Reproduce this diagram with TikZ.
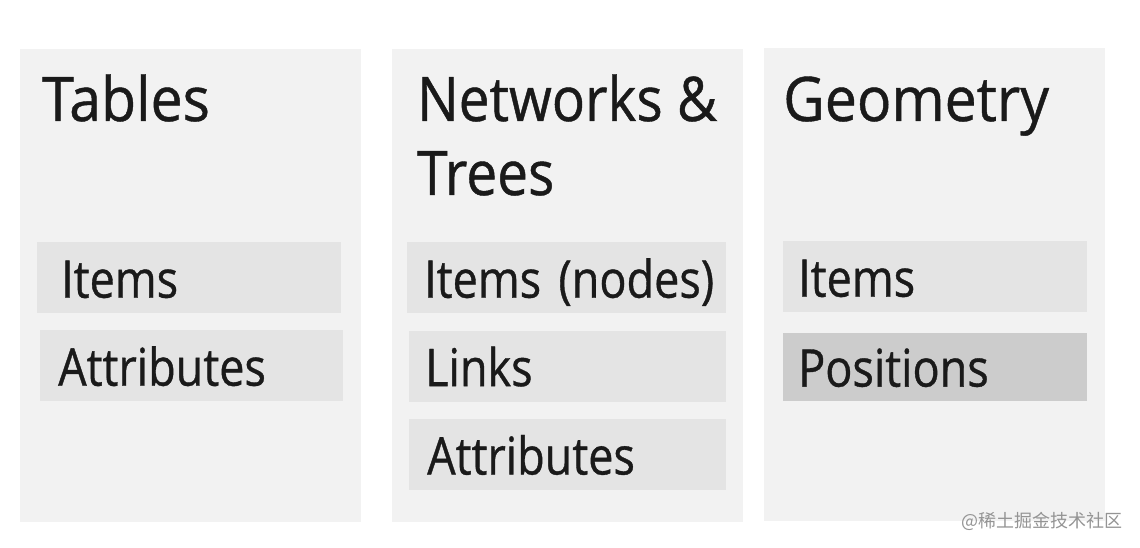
\documentclass[tikz,border=0pt]{standalone}
\usepackage{fontspec}
\setmainfont[FakeStretch=0.865, FakeBold=0.7]{Open Sans}
\newfontfamily\titlefont[FakeStretch=0.93, FakeBold=0.7]{Open Sans}
\newfontfamily\nettitlefont[FakeStretch=0.895, FakeBold=0.7]{Open Sans}
\newfontfamily\cjk{Noto Sans CJK SC}
\usepackage{tikz}
\usetikzlibrary{positioning}
\definecolor{panelgray}{HTML}{F2F2F2}
\definecolor{entrygray}{HTML}{E4E4E4}
\definecolor{markgray}{HTML}{CCCCCC}
\definecolor{inkgray}{HTML}{1A1A1A}

\tikzset{
  panel/.style={fill=panelgray, anchor=north west, inner sep=0pt,
    minimum width=341pt, minimum height=473pt},
  paneltitle/.style={anchor=base west, inner sep=0pt, text=inkgray,
    font=\titlefont\fontsize{61.5}{74}\selectfont},
  entry/.style={fill=entrygray, anchor=north west, inner xsep=16pt, inner ysep=0pt,
    text width=272pt, minimum height=71pt, text height=40pt, text depth=0pt,
    align=left, text=inkgray, font=\fontsize{52}{60}\selectfont},
}

\begin{document}
\begin{tikzpicture}[x=1pt, y=-1pt]
  \useasboundingbox (0,0) rectangle (1140,548);
  % panels
  \node[panel] (tables) at (20,49) {};
  \node[panel, minimum width=351pt] (networks) at (392,49) {};
  \node[panel] (geometry) at (764,48) {};
  % titles
  \node[paneltitle] (tabtitle) at (42,121) {Tables};
  \node[paneltitle, font=\nettitlefont\fontsize{61.5}{74}\selectfont] (nettitle) at (417,121) {Networks \&};
  \node[paneltitle, font=\nettitlefont\fontsize{61.5}{74}\selectfont] (nettitleb) at (417,195) {Trees};
  \node[paneltitle] (geotitle) at (783,121) {Geometry};
  % entries
  \node[entry, inner xsep=24pt, text width=256pt] (tabitems) at (37,242) {Items};
  \node[entry, inner xsep=18pt, text width=267pt] (tabattr) at (40,330) {Attributes};
  \node[entry, inner xsep=17pt, text width=285pt] (netitems) at (407,242) {Items~(nodes)};
  \node[entry, inner xsep=16pt, text width=285pt, below=17pt of netitems.south east, anchor=north east] (netlinks) {Links};
  \node[entry, inner xsep=18pt, text width=281pt, below=17pt of netlinks] (netattr) {Attributes};
  \node[entry, inner xsep=15pt, text width=274pt] (geoitems) at (783,241) {Items};
  \node[entry, inner xsep=15pt, text width=274pt, fill=markgray, minimum height=68pt,
    below=20pt of geoitems] (geopos) {Positions};
  % watermark
  \node[anchor=east, inner sep=0pt, text=black!42, font=\cjk\fontsize{18}{20}\selectfont]
    (mark) at (1123,521) {@稀土掘金技术社区};
\end{tikzpicture}
\end{document}
